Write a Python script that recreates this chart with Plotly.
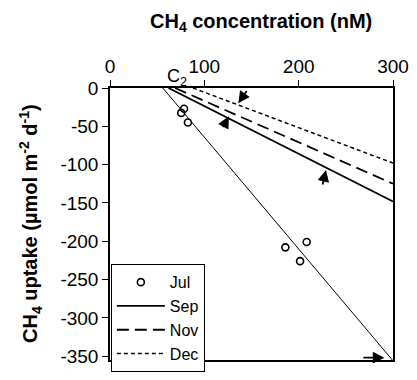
import plotly.graph_objects as go

# Data
jul_x = [75.5, 78.5, 82.6, 185.9, 201.5, 208.5]
jul_y = [-32.5, -27, -45, -208, -226, -201]

jul_fit_x = [56, 300]
jul_fit_y = [0, -356]
sep_x = [62, 300]
sep_y = [0, -148]
nov_x = [69, 300]
nov_y = [0, -125]
dec_x = [88, 300]
dec_y = [0, -98]

x_ticks = [0, 100, 200, 300]
x_tick_labels = ["0", "100", "200", "300"]
y_ticks = [0, -50, -100, -150, -200, -250, -300, -350]
y_tick_labels = ["0", "-50", "-100", "-150", "-200", "-250", "-300", "-350"]

FONT = "Liberation Sans, Arial, Helvetica, sans-serif"

fig = go.Figure()
fig.add_trace(go.Scatter(x=jul_fit_x, y=jul_fit_y, mode="lines",
                         line=dict(color="black", width=1), showlegend=False))
fig.add_trace(go.Scatter(x=jul_x, y=jul_y, mode="markers", name="Jul",
                         marker=dict(symbol="circle-open", size=7, color="black",
                                     line=dict(width=1.6, color="black"))))
fig.add_trace(go.Scatter(x=sep_x, y=sep_y, mode="lines", name="Sep",
                         line=dict(color="black", width=1.8)))
fig.add_trace(go.Scatter(x=nov_x, y=nov_y, mode="lines", name="Nov",
                         line=dict(color="black", width=1.8, dash="12px,6px")))
fig.add_trace(go.Scatter(x=dec_x, y=dec_y, mode="lines", name="Dec",
                         line=dict(color="black", width=1.5, dash="4px,3px")))

arrows = [
    # (head x, head y, tail x, tail y)
    (136, -20, 146, -2),
    (126, -37, 119, -53),
    (229, -107, 225, -128),
    (291, -352, 267, -352),
]
for hx, hy, tx, ty in arrows:
    fig.add_annotation(x=hx, y=hy, ax=tx, ay=ty, xref="x", yref="y",
                       axref="x", ayref="y", text="", showarrow=True,
                       arrowhead=2, arrowsize=1.3, arrowwidth=1.8,
                       arrowcolor="black")

fig.add_annotation(x=71, y=0, xref="x", yref="y", text="C<sub>2</sub>",
                   showarrow=False, yshift=11, font=dict(size=18, color="black", family=FONT))

fig.add_annotation(x=0.5, y=1, xref="paper", yref="paper", yshift=66, xshift=9,
                   text="<b>CH<sub>4</sub> concentration (nM)</b>", showarrow=False,
                   font=dict(size=20, color="black", family=FONT), yanchor="middle")
fig.add_annotation(x=0, y=0.5, xref="paper", yref="paper", xshift=-80,
                   text="<b>CH<sub>4</sub> uptake (µmol m<sup>-2</sup> d<sup>-1</sup>)</b>",
                   showarrow=False, textangle=-90,
                   font=dict(size=20, color="black", family=FONT), xanchor="center")

fig.update_layout(
    width=417, height=380,
    margin=dict(l=110, r=19, t=88, b=8),
    paper_bgcolor="white", plot_bgcolor="white",
    font=dict(family=FONT, size=19, color="black"),
    showlegend=True,
    legend=dict(x=0.003, y=-0.045, xanchor="left", yanchor="bottom",
                bordercolor="black", borderwidth=1, bgcolor="white",
                font=dict(size=16), tracegroupgap=0, itemwidth=48),
    xaxis=dict(range=[0, 300], side="top", tickvals=x_ticks, ticktext=x_tick_labels,
               ticks="outside", ticklen=6, tickwidth=1.2, tickcolor="black",
               showline=True, linecolor="black", linewidth=1.5, mirror=True,
               showgrid=False, zeroline=False),
    yaxis=dict(range=[-355, 0], tickvals=y_ticks, ticktext=y_tick_labels,
               ticks="outside", ticklen=6, tickwidth=1.2, tickcolor="black",
               showline=True, linecolor="black", linewidth=1.5, mirror=True,
               showgrid=False, zeroline=False),
)

fig.write_html("out.html")
